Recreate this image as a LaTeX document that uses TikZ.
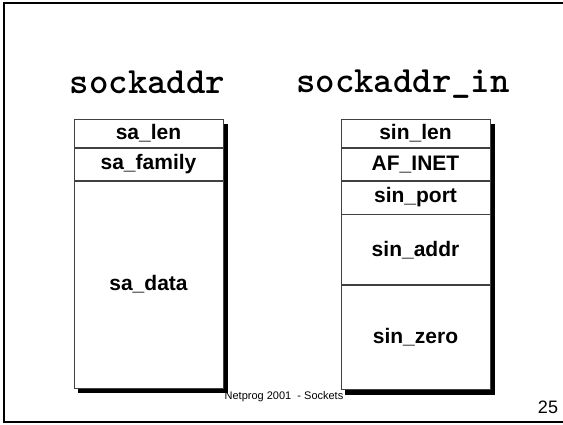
\documentclass[tikz,border=0pt]{standalone}
\usepackage{fontspec}
\setsansfont{Liberation Sans}
\usepackage{tikz}
\usetikzlibrary{positioning,backgrounds}
\tikzset{
	field/.style={draw=black!75, fill=white, line width=0.8pt, minimum width=149pt, inner sep=0pt, font=\sffamily\bfseries\fontsize{21}{21}\selectfont},
	title/.style={anchor=base, font=\ttfamily\bfseries\fontsize{37}{37}\selectfont},
}

\begin{document}
\begin{tikzpicture}[x=1pt,y=-1pt]
	\useasboundingbox (0,0) rectangle (563,424);
	\draw [line width=2pt] (563,3) -- (4,3) -- (4,422) -- (563,422);
	%
	\node[title] (sa) at (147.5,93) {sockaddr};
	\node[title] (sin) at (403,92) {sockaddr\_in};
	%
	\node[field, anchor=north, minimum height=28pt] (salen) at (148.5,119) {sa\_len};
	\node[field, minimum height=32pt, below=0pt of salen] (safam) {sa\_family};
	\node[field, minimum height=207pt, below=0pt of safam] (sadata) {sa\_data};
	%
	\node[field, anchor=north, minimum height=28pt] (sinlen) at (415.5,119) {sin\_len};
	\node[field, minimum height=32pt, below=0pt of sinlen] (afinet) {AF\_INET};
	\node[field, minimum height=33pt, below=0pt of afinet] (sinport) {sin\_port};
	\node[field, minimum height=70pt, below=0pt of sinport] (sinaddr) {sin\_addr};
	\node[field, minimum height=104pt, below=0pt of sinaddr] (sinzero) {sin\_zero};
	%
	\begin{scope}[on background layer]
		\fill ([shift={(4.5,4.5)}]salen.north west) rectangle ([shift={(4.5,4.5)}]sadata.south east);
		\fill ([shift={(4.5,4.5)}]sinlen.north west) rectangle ([shift={(4.5,4.5)}]sinzero.south east);
	\end{scope}
	%
	\node[font=\sffamily\fontsize{11}{11}\selectfont] (foot) at (284,397) {Netprog 2001\ \ - Sockets};
	\node[font=\sffamily\fontsize{18}{18}\selectfont] (page) at (548,407.5) {25};
\end{tikzpicture}
\end{document}
